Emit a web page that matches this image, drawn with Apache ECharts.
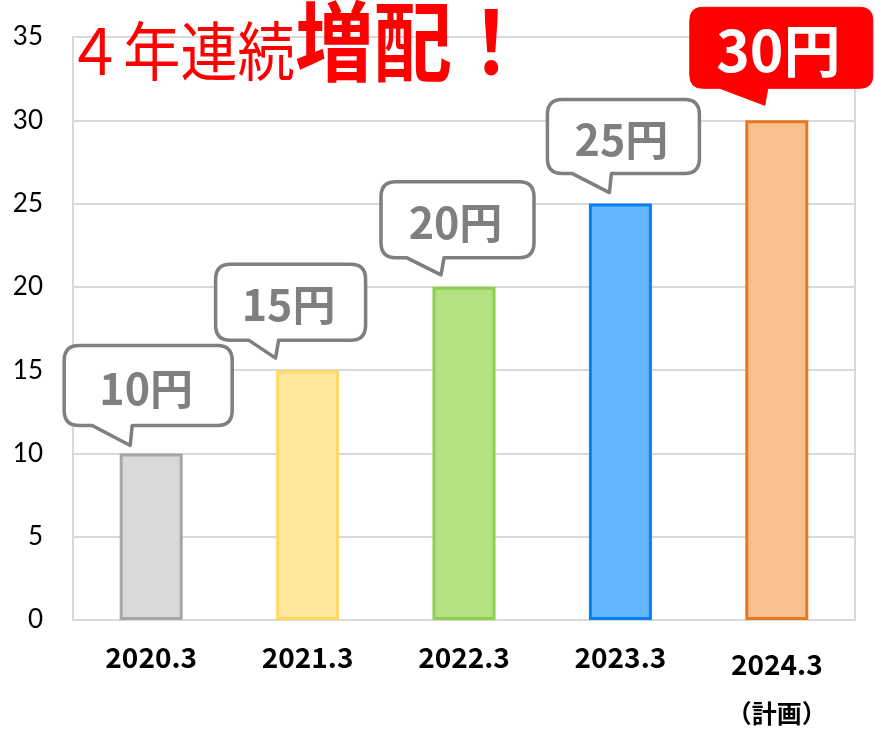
<!DOCTYPE html>
<html>
<head>
<meta charset="utf-8">
<script src="https://cdn.jsdelivr.net/npm/echarts@6/dist/echarts.min.js"></script>
<style>
html,body{margin:0;padding:0;background:#fff;}
#chart{width:875px;height:729px;}
</style>
</head>
<body>
<div id="chart"></div>
<script>
// ---- data ----
const categories = ['2020.3', '2021.3', '2022.3', '2023.3', '2024.3'];
const subLabels = ['', '', '', '', '（計画）'];
const dividends = [10, 15, 20, 25, 30];
const bubbleLabels = ['10円', '15円', '20円', '25円', '30円'];
const yMin = 0, yMax = 35, yInterval = 5;
const titleNormal = '４年連続';
const titleBold = '増配！';

// ---- styles ----
const barFills = ['#d9d9d9', '#ffe699', '#b4e283', '#63b5ff', '#f8c08f'];
const barBorders = ['#a6a6a6', '#ffd966', '#8fce4f', '#0a80f0', '#e8781f'];
// bubble geometry relative to bar top-center (pixels)
const bubbleGeom = [
  {l:-87, r:81, t:-108, b:-28, tx:-21, ty:-8,  bl:-59, br:-19},
  {l:-92, r:58, t:-106, b:-30, tx:-32, ty:-12, bl:-59, br:-29},
  {l:-83, r:70, t:-105, b:-29, tx:-23, ty:-12, bl:-57, br:-20},
  {l:-73, r:79, t:-104, b:-30, tx:-11, ty:-11, bl:-48, br:-9},
  {l:-87, r:96, t:-113, b:-32, tx:-12, ty:-15, bl:-57, br:-9}
];
const highlightIndex = 4;
const labelFont = '"Noto Sans CJK JP"';

const chart = echarts.init(document.getElementById('chart'));

function bubblePath(x0, y0, x1, y1, r, bl, br, tx, ty) {
  return 'M' + (x0 + r) + ' ' + y0 +
    ' L' + (x1 - r) + ' ' + y0 +
    ' Q' + x1 + ' ' + y0 + ' ' + x1 + ' ' + (y0 + r) +
    ' L' + x1 + ' ' + (y1 - r) +
    ' Q' + x1 + ' ' + y1 + ' ' + (x1 - r) + ' ' + y1 +
    ' L' + br + ' ' + y1 +
    ' L' + tx + ' ' + ty +
    ' L' + bl + ' ' + y1 +
    ' L' + (x0 + r) + ' ' + y1 +
    ' Q' + x0 + ' ' + y1 + ' ' + x0 + ' ' + (y1 - r) +
    ' L' + x0 + ' ' + (y0 + r) +
    ' Q' + x0 + ' ' + y0 + ' ' + (x0 + r) + ' ' + y0 + ' Z';
}

const option = {
  animation: false,
  backgroundColor: '#ffffff',
  grid: {left: 73, right: 20, top: 37, bottom: 109, show: true, borderColor: '#d9d9d9', borderWidth: 2, backgroundColor: 'transparent'},
  graphic: [
    {type: 'text', x: 66, y: 51, scaleX: 1.04, scaleY: 1.16, z: 100,
     style: {text: titleNormal, fill: '#ff0000', font: '55px ' + labelFont, align: 'left', verticalAlign: 'middle'}},
    {type: 'text', x: 295, y: 42, scaleX: 1.02, scaleY: 1.13, z: 100,
     style: {text: titleBold, fill: '#ff0000', font: 'bold 77px ' + labelFont, align: 'left', verticalAlign: 'middle'}}
  ],
  xAxis: {
    type: 'category',
    data: categories,
    axisTick: {show: false},
    axisLine: {lineStyle: {color: '#d9d9d9', width: 2}},
    axisLabel: {
      margin: 22,
      interval: 0,
      formatter: function (v, i) {
        if (subLabels[i]) return '{b|' + v + '}\n{c|' + subLabels[i] + '}';
        return '{a|' + v + '}';
      },
      rich: {
        a: {fontSize: 28, fontWeight: 'bold', color: '#000', fontFamily: labelFont, lineHeight: 30},
        b: {fontSize: 28, fontWeight: 'bold', color: '#000', fontFamily: labelFont, lineHeight: 44},
        c: {fontSize: 25, fontWeight: 'bold', color: '#000', fontFamily: labelFont, lineHeight: 54}
      }
    }
  },
  yAxis: {
    type: 'value',
    min: yMin, max: yMax, interval: yInterval,
    axisLine: {show: true, lineStyle: {color: '#d9d9d9', width: 2}},
    axisTick: {show: false},
    splitLine: {lineStyle: {color: '#d9d9d9', width: 2}},
    axisLabel: {margin: 30, fontSize: 26, color: '#000', fontFamily: 'Lato'}
  },
  series: [
    {
      type: 'bar',
      barWidth: 63,
      data: dividends.map(function (v, i) {
        return {value: v, itemStyle: {color: barFills[i], borderColor: barBorders[i], borderWidth: 3}};
      }),
      z: 2
    },
    {
      type: 'custom',
      z: 10,
      clip: false,
      data: dividends.map(function (v, i) { return [i, v]; }),
      renderItem: function (params, api) {
        const i = params.dataIndex;
        const p = api.coord([api.value(0), api.value(1)]);
        const g = bubbleGeom[i];
        const cx = p[0], cy = p[1];
        const hl = i === highlightIndex;
        const x0 = cx + g.l, x1 = cx + g.r, y0 = cy + g.t, y1 = cy + g.b;
        const path = bubblePath(x0, y0, x1, y1, hl ? 13 : 15, cx + g.bl, cx + g.br, cx + g.tx, cy + g.ty);
        return {
          type: 'group',
          children: [
            {type: 'path', shape: {pathData: path},
             style: {fill: hl ? '#ff0000' : '#ffffff', stroke: hl ? '#ff0000' : '#7f7f7f', lineWidth: hl ? 1 : 3.5, lineJoin: 'round'}},
            {type: 'text',
             style: {text: bubbleLabels[i], x: (x0 + x1) / 2 - (hl ? 3 : 2), y: (y0 + y1) / 2 + 3,
                     align: 'center', verticalAlign: 'middle',
                     fill: hl ? '#ffffff' : '#7f7f7f',
                     font: 'bold ' + (hl ? 57 : 43) + 'px ' + labelFont}}
          ]
        };
      }
    }
  ]
};
chart.setOption(option);
</script>
</body>
</html>
